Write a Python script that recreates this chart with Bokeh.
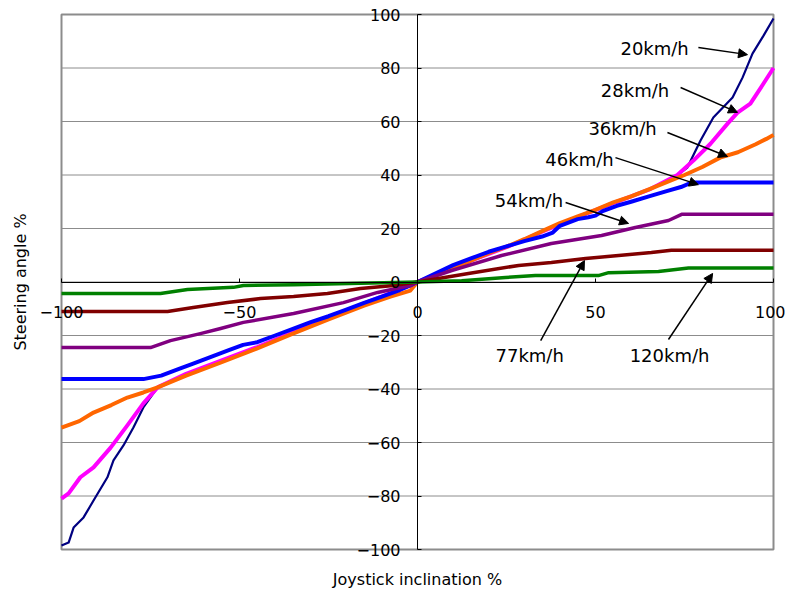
from bokeh.plotting import figure
from bokeh.models import Range1d, Arrow, NormalHead, FixedTicker, Label
from bokeh.core.properties import value
from bokeh.embed import file_html
from bokeh.resources import INLINE
import math

FONT = "DejaVu Sans"

# ---- data ----
x_20 = [-100, -98, -96.6, -93.8, -91, -87.1, -85.4, -82.6, -79.8, -77, -73, -65, -55, -45, -35, -25, -15, -5, 0,
        5, 15, 25, 35, 45, 55, 65, 73, 75.8, 79.5, 83.1, 88.5, 91.3, 94.1, 97.2, 100]
y_20 = [-98.5, -97.4, -91.8, -88, -81.7, -73, -66.7, -61.1, -54.4, -46.9, -39.4, -34.4, -29.3, -24.3, -18.9, -13.6, -8.2, -2.9, 0,
        2.8, 8.1, 13.2, 18.9, 24.4, 29.6, 34.6, 40, 42.8, 52.9, 61.5, 69, 76.4, 85.4, 92.1, 98.5]

x_28 = [-100, -98, -94.7, -91, -86.2, -81.5, -77, -73, -65, -55, -45, -35, -25, -15, -5, -2, 0,
        5, 15, 25, 35, 45, 55, 65, 73, 77.5, 82.3, 87.1, 89.9, 93.5, 97.2, 100]
y_28 = [-81, -79, -73, -69.3, -61.9, -53.6, -45.4, -39.4, -34.3, -29.3, -24.3, -18.8, -13.5, -8, -2.8, -1.2, 0,
        2.8, 8, 13, 18.8, 24.3, 29.5, 34.5, 40, 45.4, 51.7, 59.2, 63.3, 66.7, 74.2, 80]

x_36 = [-100, -95, -91, -86, -81.5, -77, -73, -65, -55, -45, -35, -25, -15, -7.6, -2, 0,
        5, 10, 15, 20, 25, 30, 35, 40, 45, 50, 55, 60, 65, 70, 75, 80, 85, 90, 95, 98, 100]
y_36 = [-54.4, -52, -48.8, -46, -43.2, -41.3, -39.4, -35, -30, -24.8, -19.3, -14, -8.8, -5.5, -3.2, 0,
        2.6, 5.3, 8, 10.8, 13.2, 16, 19, 22, 24.5, 27, 29.8, 32, 34.6, 37.3, 40, 43, 46.5, 48.5, 51.5, 53.5, 55]

x_46 = [-100, -77, -72, -67, -63, -58, -53, -49, -45, -40, -35, -30, -25, -20, -15, -10, -5, -2, 0,
        5, 10, 15, 20, 25, 30, 35, 38, 40, 45, 48, 50, 52, 56, 60, 65, 70, 74, 77, 100]
y_46 = [-36.3, -36.3, -35, -32.5, -30.5, -28, -25.5, -23.5, -22.5, -20, -17.5, -15, -12.8, -10.3, -7.8, -5.5, -3, -1.3, 0,
        3.2, 6.3, 8.8, 11.3, 13.3, 15.3, 17, 18.5, 21, 23.5, 24.2, 24.8, 26.5, 28.5, 30, 32, 34, 35.5, 37.2, 37.2]

x_54 = [-100, -75, -69.4, -61, -55.3, -48.9, -34.8, -20.8, -11.2, -2, 0,
        9.6, 23.6, 37.6, 51.7, 61.2, 70.5, 74.2, 100]
y_54 = [-24.5, -24.5, -21.9, -19.3, -17.4, -15.1, -11.8, -7.7, -3.9, -1.3, 0,
        4.3, 9.9, 14.4, 17.4, 20.4, 23, 25.3, 25.3]

x_77 = [-100, -70.2, -63, -53.4, -44.1, -34.8, -25.3, -16, -6.7, 0,
        14.3, 28.4, 37.6, 47.2, 56.5, 65.7, 71.3, 100]
y_77 = [-11, -11, -9.5, -7.7, -6.2, -5.4, -4.3, -2.4, -1.3, 0,
        3.2, 6.2, 7.3, 8.8, 9.9, 11, 11.9, 11.9]

x_120 = [-100, -72.2, -64.6, -51.7, -48.9, -34.8, -16, 0,
         12.4, 24.7, 33.1, 50.8, 53.7, 67.7, 76.1, 100]
y_120 = [-4.3, -4.3, -2.8, -2, -1.3, -1, -0.5, 0,
         0.5, 1.7, 2.4, 2.4, 3.5, 3.9, 5.2, 5.2]

x_ticks = [-100, -50, 0, 50, 100]
y_ticks = [-100, -80, -60, -40, -20, 0, 20, 40, 60, 80, 100]
x_title = "Joystick inclination %"
y_title = "Steering angle %"

series = [
    ("20km/h", x_20, y_20, "#000080", 2.2),
    ("28km/h", x_28, y_28, "#FF00FF", 4),
    ("36km/h", x_36, y_36, "#FF6600", 4),
    ("46km/h", x_46, y_46, "#0000FF", 4),
    ("54km/h", x_54, y_54, "#800080", 3.5),
    ("77km/h", x_77, y_77, "#800000", 3.5),
    ("120km/h", x_120, y_120, "#008000", 3.5),
]

# annotation labels and arrows
label_text = ["20km/h", "28km/h", "36km/h", "46km/h", "54km/h", "77km/h", "120km/h"]
label_x = [66.6, 61.1, 57.6, 45.5, 31.3, 31.5, 70.8]
label_y = [87.3, 71.6, 57.4, 45.8, 30.5, -27.5, -27.5]
arrows = [
    (78.9, 87.7, 92.7, 85.0),
    (73.9, 72.7, 89.9, 63.4),
    (70.2, 55.9, 87.1, 46.9),
    (55.6, 46.5, 78.9, 36.4),
    (41.6, 29.7, 59.3, 21.9),
    (34.6, -21.9, 46.9, 8.0),
    (70.5, -21.5, 82.9, 3.2),
]

# ---- layout: the whole canvas is the frame; the data box (-100..100) is drawn inside it ----
W, H = 786, 590
ML, MR, MT, MB = 61, 13, 14, 41          # pixel margins around the data box
XMIN, XMAX, YMIN, YMAX = -100, 100, -100, 100
sx = (W - ML - MR) / (XMAX - XMIN)
sy = (H - MT - MB) / (YMAX - YMIN)

p = figure(width=W, height=H,
           x_range=Range1d(XMIN - ML / sx, XMAX + MR / sx),
           y_range=Range1d(YMIN - MB / sy, YMAX + MT / sy),
           output_backend="svg", toolbar_location=None,
           min_border=0, min_border_left=0, min_border_right=0, min_border_top=0, min_border_bottom=0)
p.background_fill_color = "white"
p.border_fill_color = "white"
p.outline_line_color = None
p.xgrid.visible = False
p.ygrid.visible = False

# horizontal grid lines
p.segment(x0=[XMIN] * len(y_ticks), x1=[XMAX] * len(y_ticks), y0=y_ticks, y1=y_ticks,
          line_color="#8c8c8c", line_width=1)
# plot-area border
p.quad(left=[XMIN], right=[XMAX], bottom=[YMIN], top=[YMAX], fill_color=None,
       line_color="#8c8c8c", line_width=2)

def fmt(v):
    return ("\u2212" + str(abs(v))) if v < 0 else str(v)

for ax, ticks, bnd in ((p.xaxis[0], x_ticks, (XMIN, XMAX)), (p.yaxis[0], y_ticks, (YMIN, YMAX))):
    ax.fixed_location = 0
    ax.bounds = bnd
    ax.ticker = FixedTicker(ticks=ticks, minor_ticks=[])
    ax.major_label_overrides = {t: "" for t in ticks}
    ax.axis_line_color = "black"
    ax.axis_line_width = 1
    ax.major_tick_line_color = "black"
    ax.major_tick_out = 0
    ax.major_tick_in = 4
    ax.minor_tick_line_color = None
    ax.axis_label = None

for name, xs, ys, col, lw in series:
    p.line(xs, ys, line_color=col, line_width=lw, line_join="round")

for (x0, y0, x1, y1) in arrows:
    p.add_layout(Arrow(end=NormalHead(size=9, fill_color="black", line_color="black"),
                       x_start=x0, y_start=y0, x_end=x1, y_end=y1,
                       line_color="black", line_width=1.5))

p.text(x=label_x, y=label_y, text=label_text, text_font=value(FONT), text_font_size="18px",
       text_align="center", text_baseline="middle", text_color="black")

# tick labels
for t in x_ticks:
    if t == XMAX:
        # keep the last label inside the canvas edge
        lab = Label(x=t, y=0, text=fmt(t), x_offset=12, y_offset=-30, text_align="right",
                    text_baseline="middle", text_font=FONT, text_font_size="16px", text_color="black")
    else:
        lab = Label(x=t, y=0, text=fmt(t), x_offset=0, y_offset=-30, text_align="center",
                    text_baseline="middle", text_font=FONT, text_font_size="16px", text_color="black")
    p.add_layout(lab)
for t in y_ticks:
    p.add_layout(Label(x=0, y=t, text=fmt(t), x_offset=-17, y_offset=0, text_align="right",
                       text_baseline="middle", text_font=FONT, text_font_size="16px", text_color="black"))

# axis titles
p.add_layout(Label(x=XMIN, y=0, text=y_title, x_offset=-41, y_offset=0, angle=math.pi / 2,
                   text_align="center", text_baseline="middle", text_font=FONT, text_font_size="16px",
                   text_color="black"))
p.add_layout(Label(x=0, y=YMIN, text=x_title, x_offset=0, y_offset=-30,
                   text_align="center", text_baseline="middle", text_font=FONT, text_font_size="16px",
                   text_color="black"))

open("out.html", "w").write(file_html(p, INLINE))
